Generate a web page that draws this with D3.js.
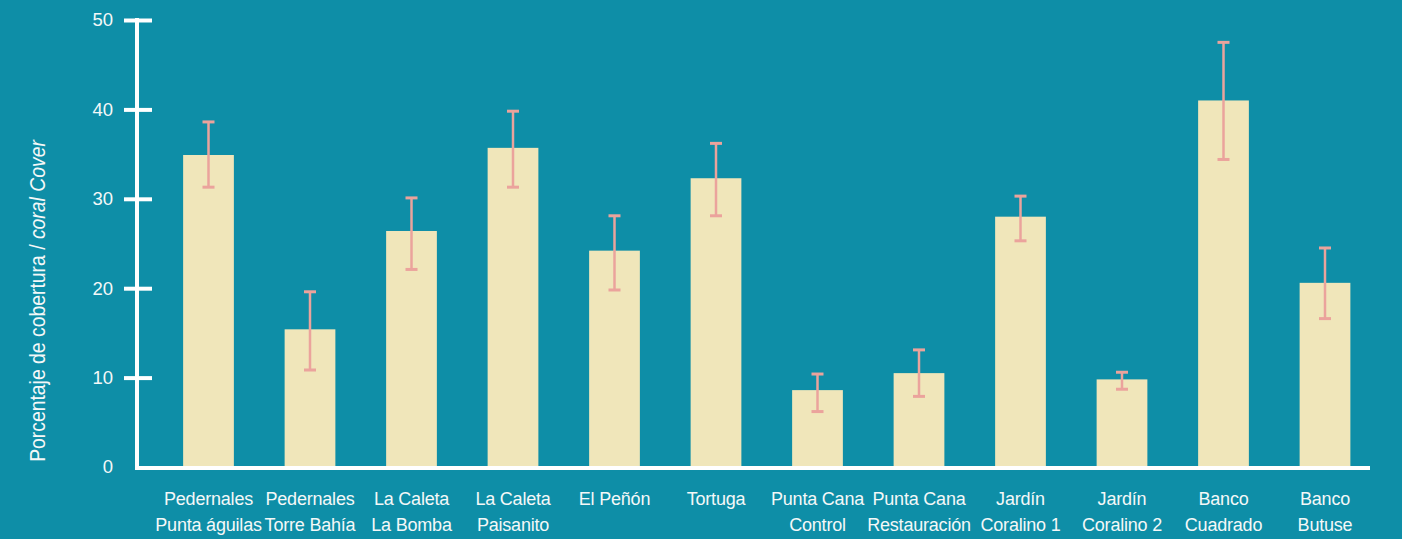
<!DOCTYPE html>
<html>
<head>
<meta charset="utf-8">
<script src="https://cdn.jsdelivr.net/npm/d3@7"></script>
<style>
  body { margin: 0; background: #0e8ea7; }
  text { font-family: "Liberation Sans", Arial, sans-serif; fill: #f4f8f8; }
</style>
</head>
<body>
<svg id="chart"></svg>
<script>
// data
var sites = [
  ["Pedernales", "Punta águilas"],
  ["Pedernales", "Torre Bahía"],
  ["La Caleta", "La Bomba"],
  ["La Caleta", "Paisanito"],
  ["El Peñón"],
  ["Tortuga"],
  ["Punta Cana", "Control"],
  ["Punta Cana", "Restauración"],
  ["Jardín", "Coralino 1"],
  ["Jardín", "Coralino 2"],
  ["Banco", "Cuadrado"],
  ["Banco", "Butuse"]
];
var cover = [34.9, 15.4, 26.4, 35.7, 24.2, 32.3, 8.6, 10.5, 28.0, 9.8, 41.0, 20.6];
var errHigh = [38.6, 19.6, 30.1, 39.8, 28.1, 36.2, 10.4, 13.1, 30.3, 10.6, 47.5, 24.5];
var errLow = [31.3, 10.85, 22.1, 31.3, 19.8, 28.1, 6.2, 7.9, 25.3, 8.7, 34.4, 16.6];
var yTicks = [0, 10, 20, 30, 40, 50];

var width = 1402, height = 539;
var svg = d3.select("#chart")
  .attr("width", width)
  .attr("height", height);

var x = d3.scaleBand()
  .domain(d3.range(sites.length))
  .range([157.75, 1375.75])
  .paddingInner(0.5)
  .paddingOuter(0.25);

var y = d3.scaleLinear()
  .domain([0, 50])
  .range([467, 20]);

// bars
svg.append("g")
  .selectAll("rect")
  .data(cover)
  .enter()
  .append("rect")
  .attr("x", function(d, i) { return x(i); })
  .attr("y", function(d) { return y(d); })
  .attr("width", x.bandwidth())
  .attr("height", function(d) { return y(0) - y(d); })
  .attr("fill", "#f0e6ba");

// error bars
var err = svg.append("g")
  .attr("stroke", "#eba39c")
  .selectAll("g")
  .data(cover)
  .enter()
  .append("g")
  .attr("transform", function(d, i) { return "translate(" + (x(i) + x.bandwidth() / 2) + ",0)"; });

err.append("line")
  .attr("y1", function(d, i) { return y(errHigh[i]); })
  .attr("y2", function(d, i) { return y(errLow[i]); })
  .attr("stroke-width", 2.5);
err.append("line")
  .attr("x1", -6).attr("x2", 6)
  .attr("y1", function(d, i) { return y(errHigh[i]); })
  .attr("y2", function(d, i) { return y(errHigh[i]); })
  .attr("stroke-width", 3);
err.append("line")
  .attr("x1", -6).attr("x2", 6)
  .attr("y1", function(d, i) { return y(errLow[i]); })
  .attr("y2", function(d, i) { return y(errLow[i]); })
  .attr("stroke-width", 3);

// y axis
var yAxis = svg.append("g")
  .attr("transform", "translate(137,0)")
  .call(d3.axisLeft(y).tickValues(yTicks).tickSize(0).tickPadding(24));
yAxis.select(".domain").remove();
yAxis.selectAll("text")
  .attr("font-size", 18.5)
  .attr("font-family", null)
  .attr("fill", null);
yAxis.append("line")
  .attr("y1", y(50) - 2).attr("y2", y(0) + 3)
  .attr("stroke", "#fff").attr("stroke-width", 4);
yAxis.selectAll(".tick").filter(function(d) { return d > 0; })
  .append("line")
  .attr("x1", -13).attr("x2", 15)
  .attr("stroke", "#fff").attr("stroke-width", 4);

// x axis baseline
svg.append("line")
  .attr("x1", 135).attr("x2", 1370)
  .attr("y1", y(0) + 1).attr("y2", y(0) + 1)
  .attr("stroke", "#fff").attr("stroke-width", 4);

// category labels
svg.append("g")
  .selectAll("text")
  .data(sites)
  .enter()
  .append("text")
  .attr("text-anchor", "middle")
  .attr("font-size", 18)
  .attr("letter-spacing", -0.2)
  .attr("transform", function(d, i) { return "translate(" + (x(i) + x.bandwidth() / 2) + ",505)"; })
  .selectAll("tspan")
  .data(function(d) { return d; })
  .enter()
  .append("tspan")
  .attr("x", 0)
  .attr("dy", function(d, j) { return j === 0 ? 0 : 25.5; })
  .text(function(d) { return d; });

// y axis title (narrowed to look like the condensed face)
var title = svg.append("text")
  .attr("transform", "translate(45,301) rotate(-90) scale(0.88,1)")
  .attr("text-anchor", "middle")
  .attr("font-size", 22);
title.append("tspan").text("Porcentaje de cobertura / ");
title.append("tspan").attr("font-style", "italic").text("coral Cover");
</script>
</body>
</html>
